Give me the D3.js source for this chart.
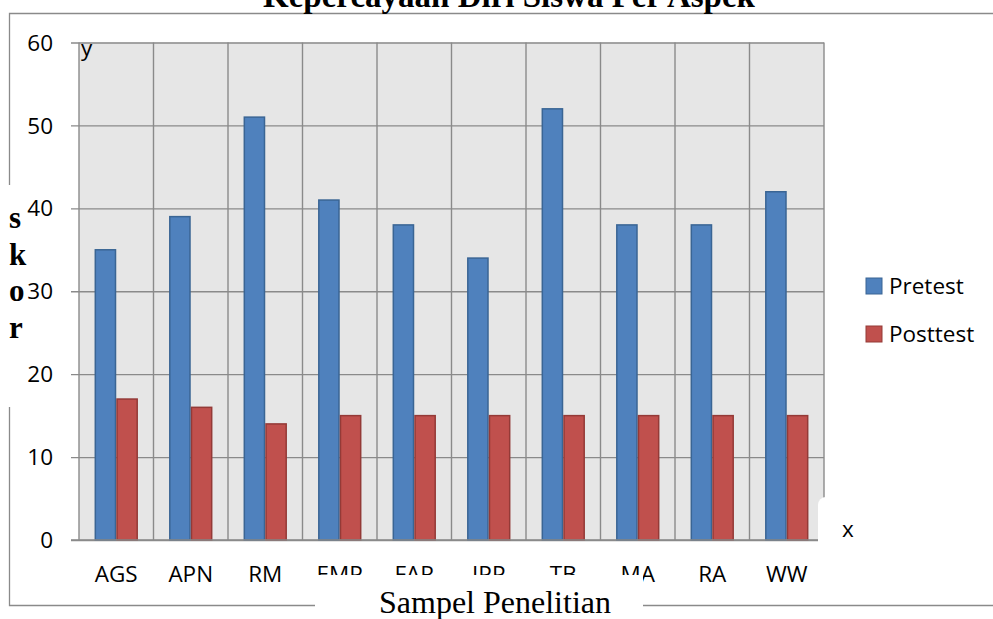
<!DOCTYPE html>
<html>
<head>
<meta charset="utf-8">
<script src="https://cdn.jsdelivr.net/npm/d3@7/dist/d3.min.js"></script>
<style>
  html, body { margin: 0; padding: 0; background: #fff; }
  svg { display: block; }
</style>
</head>
<body>
<svg id="chart" width="993" height="619"></svg>
<script>
// ---- data ----
const categories = ["AGS", "APN", "RM", "EMP", "FAR", "IPP", "TB", "MA", "RA", "WW"];
const seriesNames = ["Pretest", "Posttest"];
const pretest  = [35, 39, 51, 41, 38, 34, 52, 38, 38, 42];
const posttest = [17, 16, 14, 15, 15, 15, 15, 15, 15, 15];
const yTicks = [0, 10, 20, 30, 40, 50, 60];
const titleText = "Kepercayaan Diri Siswa Per Aspek";
const xTitle = "Sampel Penelitian";
const yTitle = ["s", "k", "o", "r"];

const colors = { Pretest: "#4f81bd", Posttest: "#c0504d" };
const strokes = { Pretest: "#3a6594", Posttest: "#943a37" };

const svg = d3.select("#chart");
const sans = "'Open Sans', 'Liberation Sans', sans-serif";
const serif = "'Liberation Serif', 'Times New Roman', serif";
const grid = "#8a8a8a";

const plot = { left: 79, right: 824, top: 42.5, bottom: 540 };

const x = d3.scaleBand().domain(categories).range([plot.left, plot.right]).padding(0);
const x1 = d3.scaleBand().domain(seriesNames).range([0, x.bandwidth()]).paddingInner(0).paddingOuter(0.717);
const y = d3.scaleLinear().domain([0, 60]).range([plot.bottom, plot.top]);

// outer border
svg.append("path")
  .attr("d", `M 1000 13.5 L 9.5 13.5 L 9.5 605.5 L 1000 605.5`)
  .attr("fill", "none").attr("stroke", grid).attr("stroke-width", 1.3);

// plot background
svg.append("rect")
  .attr("x", plot.left).attr("y", plot.top)
  .attr("width", plot.right - plot.left).attr("height", plot.bottom - plot.top)
  .attr("fill", "#e6e6e6");

// horizontal gridlines + ticks
const yAxis = svg.append("g")
  .attr("transform", `translate(${plot.left},0)`)
  .call(d3.axisLeft(y).tickValues(yTicks).tickSize(-(plot.right - plot.left)).tickFormat(d3.format("d")).tickPadding(26));
yAxis.select(".domain").remove();
yAxis.selectAll(".tick line").attr("stroke", grid).attr("stroke-width", 1.4).attr("x1", -8);
yAxis.selectAll(".tick text")
  .attr("font-family", sans).attr("font-size", "22.5px").attr("fill", "#000")
  .attr("dy", "0.34em");

// vertical gridlines at category boundaries
const bounds = categories.map(c => x(c)).concat([plot.right]);
svg.append("g").selectAll("line").data(bounds).join("line")
  .attr("x1", d => d).attr("x2", d => d)
  .attr("y1", plot.top).attr("y2", plot.bottom)
  .attr("stroke", grid).attr("stroke-width", 1.4);

// bars
const rows = categories.map((c, i) => ({ cat: c, Pretest: pretest[i], Posttest: posttest[i] }));
const groups = svg.append("g").selectAll("g").data(rows).join("g")
  .attr("transform", d => `translate(${x(d.cat)},0)`);
groups.selectAll("rect")
  .data(d => seriesNames.map(s => ({ s, v: d[s] })))
  .join("rect")
  .attr("x", d => x1(d.s) + 0.75)
  .attr("width", x1.bandwidth() - 1.5)
  .attr("y", d => y(d.v))
  .attr("height", d => y(0) - y(d.v))
  .attr("fill", d => colors[d.s])
  .attr("stroke", d => strokes[d.s])
  .attr("stroke-width", 1.5);

// baseline axis line
svg.append("line")
  .attr("x1", plot.left - 8).attr("x2", plot.right)
  .attr("y1", y(0)).attr("y2", y(0))
  .attr("stroke", grid).attr("stroke-width", 1.6);

// x axis labels
const xAxis = svg.append("g")
  .attr("transform", `translate(0,${plot.bottom})`)
  .call(d3.axisBottom(x).tickSize(0).tickPadding(26));
xAxis.select(".domain").remove();
xAxis.selectAll(".tick text")
  .attr("font-family", sans).attr("font-size", "22.5px").attr("fill", "#000");

// white cover boxes
svg.append("rect").attr("x", 315).attr("y", 575).attr("width", 328).attr("height", 50).attr("fill", "#fff");
svg.append("rect").attr("x", 818).attr("y", 497).attr("width", 90).attr("height", 70).attr("rx", 8).attr("fill", "#fff");
svg.append("rect").attr("x", 0).attr("y", 185).attr("width", 26).attr("height", 222).attr("fill", "#fff");

// title
svg.append("text")
  .attr("x", 509).attr("y", 7)
  .attr("text-anchor", "middle")
  .attr("font-family", serif).attr("font-weight", "bold").attr("font-size", "33px")
  .text(titleText);

// x title
svg.append("text")
  .attr("x", 495).attr("y", 613)
  .attr("text-anchor", "middle")
  .attr("font-family", serif).attr("font-size", "32px")
  .text(xTitle);

// y title (vertical letters)
svg.append("g").selectAll("text").data(yTitle).join("text")
  .attr("x", 9).attr("y", (d, i) => 228 + i * 36.7)
  .attr("font-family", serif).attr("font-weight", "bold").attr("font-size", "31px")
  .text(d => d);

// axis letters
svg.append("text").attr("x", 81).attr("y", 56)
  .attr("font-family", sans).attr("font-size", "22.5px").text("y");
svg.append("text").attr("x", 842).attr("y", 537)
  .attr("font-family", sans).attr("font-size", "22.5px").text("x");

// legend
const legend = svg.append("g").selectAll("g").data(seriesNames).join("g")
  .attr("transform", (d, i) => `translate(866,${278 + i * 48})`);
legend.append("rect")
  .attr("width", 16).attr("height", 16)
  .attr("fill", d => colors[d]).attr("stroke", d => strokes[d]).attr("stroke-width", 1);
legend.append("text")
  .attr("x", 23).attr("y", 8).attr("dy", "0.36em")
  .attr("font-family", sans).attr("font-size", "22.5px").text(d => d);
</script>
</body>
</html>
